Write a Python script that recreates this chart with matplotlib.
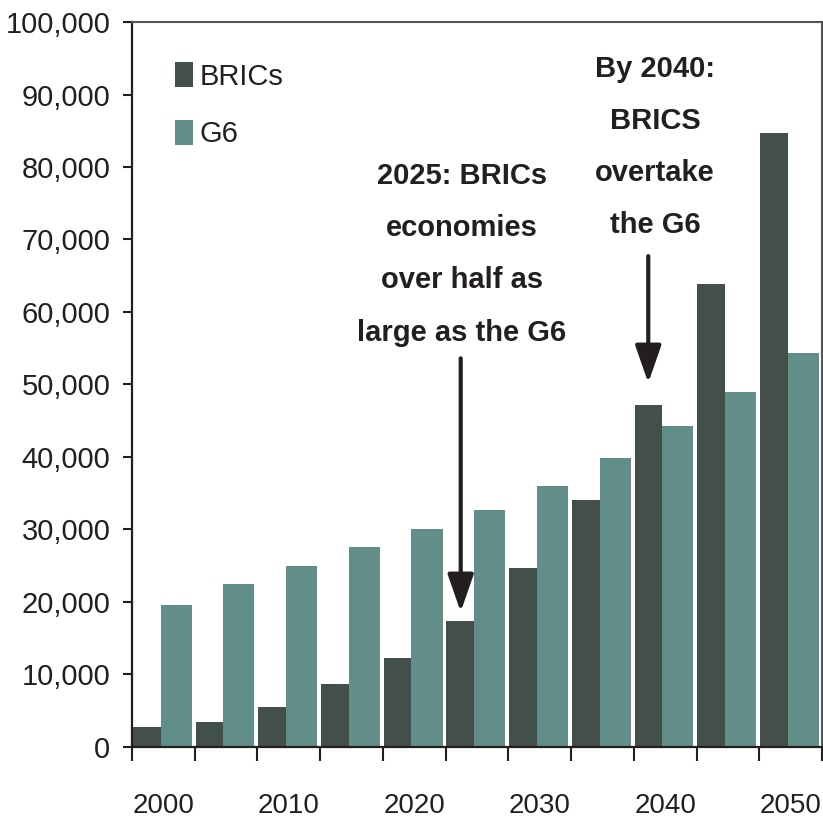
import matplotlib
matplotlib.use("Agg")
import matplotlib.pyplot as plt
from matplotlib.ticker import FuncFormatter

# Data (USD bn)
years = [2000, 2005, 2010, 2015, 2020, 2025, 2030, 2035, 2040, 2045, 2050]
brics = [2700, 3450, 5500, 8600, 12300, 17300, 24600, 34100, 47200, 63800, 84700]
g6 = [19600, 22500, 25000, 27600, 30100, 32700, 36000, 39900, 44200, 48900, 54300]
year_labels = ["2000", "2010", "2020", "2030", "2040", "2050"]

plt.rcParams["font.family"] = ["Liberation Sans", "DejaVu Sans"]

dark = "#434f4a"
teal = "#628e8a"
txt = "#231f20"

fig = plt.figure(figsize=(8.23, 8.26), dpi=100)
ax = fig.add_axes([0.1604, 0.096, 0.8384, 0.8773])

x = list(range(len(years)))
ax.bar([i - 0.487 for i in x], brics, width=0.442, align="edge", color=dark, label="BRICs")
ax.bar([i - 0.045 for i in x], g6, width=0.495, align="edge", color=teal, label="G6")

ax.set_xlim(-0.5, len(years) - 0.5)
ax.set_ylim(0, 100000)

# y axis
ax.set_yticks(range(0, 100001, 10000))
ax.yaxis.set_major_formatter(FuncFormatter(lambda v, p: f"{int(v):,}"))
ax.tick_params(axis="y", length=6.5, width=1.5, pad=9, labelsize=21, colors=txt)

# x axis: labels every 10 years, ticks at group boundaries
ax.set_xticks([i for i in x if years[i] % 10 == 0])
ax.set_xticklabels(year_labels)
ax.set_xticks([i - 0.5 for i in range(len(years) + 1)], minor=True)
ax.tick_params(axis="x", which="major", length=0, pad=33, labelsize=20, colors=txt)
ax.tick_params(axis="x", which="minor", length=10, width=1.5, color=txt)

for s in ["left", "bottom"]:
    ax.spines[s].set_linewidth(1.6)
    ax.spines[s].set_color(txt)
for s in ["top", "right"]:
    ax.spines[s].set_linewidth(1.5)
    ax.spines[s].set_color("#555555")

leg = ax.legend(loc="upper left", bbox_to_anchor=(0.062, 0.945), frameon=False,
                fontsize=21, handlelength=0.62, handleheight=0.95, handletextpad=0.22,
                labelspacing=1.0, borderaxespad=0, borderpad=0)
for t in leg.get_texts():
    t.set_color(txt)

# annotations
ax.text(4.76, 80700, "2025: BRICs\neconomies\nover half as\nlarge as the G6",
        ha="center", va="top", fontsize=21, fontweight="bold", color=txt,
        linespacing=2.1)
ax.text(7.84, 95500, "By 2040:\nBRICS\novertake\nthe G6",
        ha="center", va="top", fontsize=21, fontweight="bold", color=txt,
        linespacing=2.1)

arrow = dict(arrowstyle="-|>,head_width=0.8,head_length=2.3", color=txt, lw=3,
             shrinkA=0, shrinkB=0, mutation_scale=10)
ax.annotate("", xy=(4.74, 18600), xytext=(4.74, 53600), arrowprops=arrow)
ax.annotate("", xy=(7.73, 50200), xytext=(7.73, 67700), arrowprops=arrow)

fig.savefig("out.png", dpi=100)
